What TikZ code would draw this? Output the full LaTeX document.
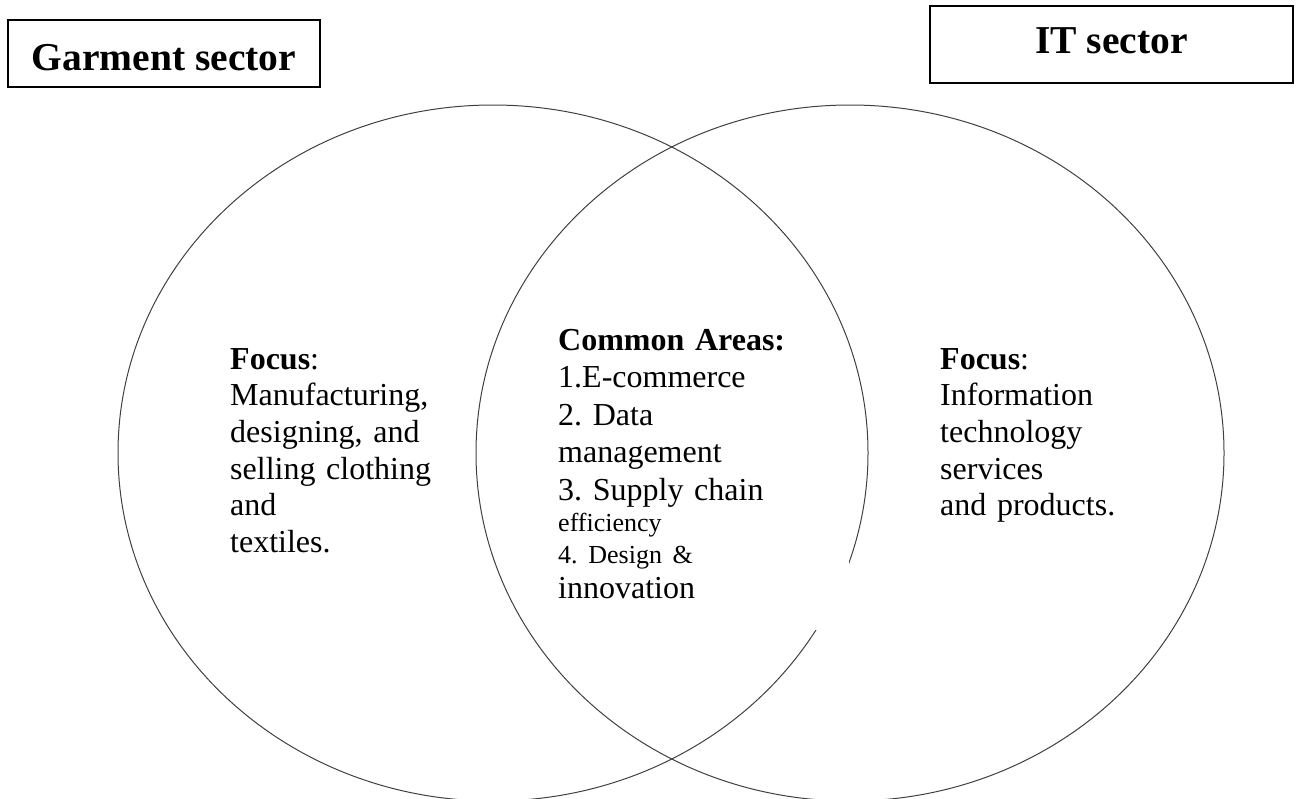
\documentclass[tikz,border=0pt]{standalone}
\usepackage{fontspec}
\setmainfont{Liberation Serif}
\frenchspacing
\begin{document}
\begin{tikzpicture}[x=1pt, y=-1pt,
  venn/.style={draw=black!75, line width=1pt},
  sectorbox/.style={draw, line width=1.3pt, font=\bfseries\fontsize{39.5}{44}\selectfont, text depth=0pt, inner sep=0pt},
  sidetext/.style={anchor=base west, inner sep=0pt, align=left, text width=218pt, font=\fontsize{32}{36.7}\selectfont},
  commontext/.style={anchor=base west, inner sep=0pt, align=left, text width=240pt, font=\fontsize{32}{37.5}\selectfont}]
\useasboundingbox (0,0) rectangle (1300,798);
\draw[venn] (493,453) ellipse [x radius=375pt, y radius=348pt];
\draw[venn] (850,453) ellipse [x radius=374pt, y radius=348pt];
\fill[white] (536,360) rectangle (849,630);
\node[sectorbox, minimum width=312pt, minimum height=67pt, text height=33pt] (garment) at (164,53.5) {Garment sector};
\node[sectorbox, minimum width=363pt, minimum height=77pt, text height=17pt] (it) at (1111.5,44.5) {IT sector};
\node[sidetext] (garmentfocus) at (230,369) {\textbf{Focus}:\\ Manufacturing,\\ \makebox[\linewidth][s]{designing, and}\\ \makebox[\linewidth][s]{selling clothing}\\ and\\ textiles.};
\node[commontext] (common) at (558,350) {\textbf{Common Areas:}\\ 1.E-commerce\\ 2. Data\\ management\\ 3. Supply chain\\[-6.5pt] {\fontsize{26}{31}\selectfont efficiency}\\[-5.5pt] {\fontsize{26}{31}\selectfont 4. Design \&}\\[-2.5pt] innovation};
\node[sidetext] (itfocus) at (940,369) {\textbf{Focus}:\\ Information\\ technology\\ services\\ and products.};
\end{tikzpicture}
\end{document}
